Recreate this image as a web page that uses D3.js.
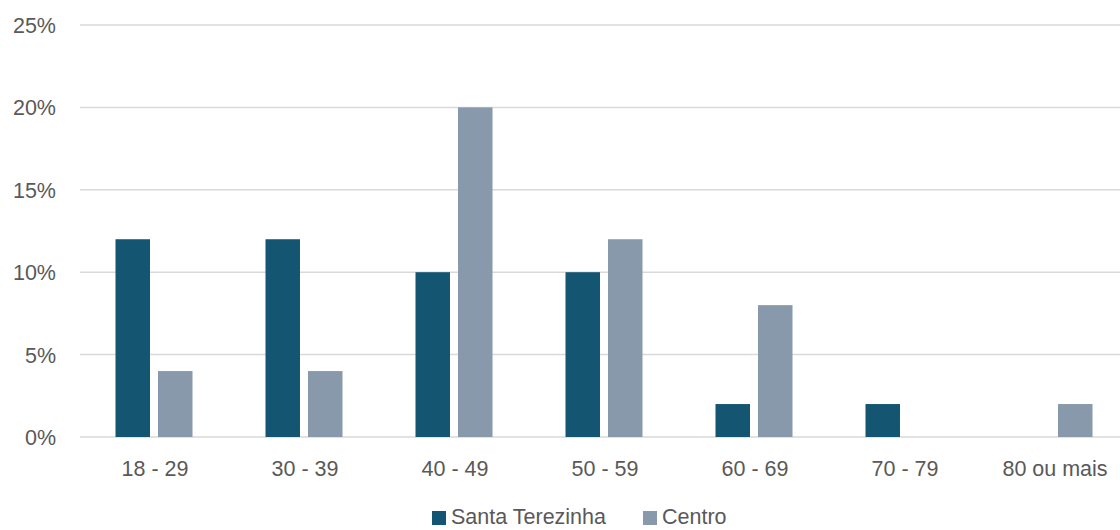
<!DOCTYPE html>
<html>
<head>
<meta charset="utf-8">
<script src="https://cdn.jsdelivr.net/npm/d3@7"></script>
<style>
  html, body { margin: 0; padding: 0; background: #fff; }
  svg { display: block; }
  text { font-family: "Liberation Sans", Arial, sans-serif; fill: #595959; }
</style>
</head>
<body>
<svg id="chart" width="1120" height="530"></svg>
<script>
// Age groups and share of respondents (%) per neighbourhood
const categories = ["18 - 29", "30 - 39", "40 - 49", "50 - 59", "60 - 69", "70 - 79", "80 ou mais"];
const seriesNames = ["Santa Terezinha", "Centro"];
const santaTerezinha = [12, 12, 10, 10, 2, 2, 0];
const centro = [4, 4, 20, 12, 8, 0, 2];
const yTicks = [0, 5, 10, 15, 20, 25];
const colors = ["#145571", "#8799ab"];

const seriesValues = [santaTerezinha, centro];

const svg = d3.select("#chart");
const plotLeft = 80, plotRight = 1130, plotTop = 25, plotBottom = 437;
const fontSize = 21.5;

const x = d3.scaleBand().domain(categories).range([plotLeft, plotRight]);
const y = d3.scaleLinear().domain([0, 25]).range([plotBottom, plotTop]);

const barW = 34.5, gap = 8;
const groupW = barW * 2 + gap;

// Gridlines
svg.append("g")
  .selectAll("line")
  .data(yTicks)
  .join("line")
  .attr("x1", plotLeft)
  .attr("x2", plotRight)
  .attr("y1", d => y(d))
  .attr("y2", d => y(d))
  .attr("stroke", "#d9d9d9")
  .attr("stroke-width", 1.5);

// Y axis labels
const yAxis = d3.axisLeft(y).tickValues(yTicks).tickFormat(d => d + "%").tickSize(0).tickPadding(0);
const yg = svg.append("g").attr("transform", "translate(56,0)").call(yAxis);
yg.select(".domain").remove();
yg.selectAll("text")
  .attr("font-size", fontSize)
  .attr("fill", "#595959")
  .attr("font-family", "Liberation Sans, Arial, sans-serif")
  .attr("dy", "0.35em");

// Bars
seriesValues.forEach((vals, si) => {
  svg.append("g")
    .selectAll("rect")
    .data(vals.map((v, i) => ({ cat: categories[i], v })).filter(d => d.v > 0))
    .join("rect")
    .attr("x", d => x(d.cat) + x.bandwidth() / 2 - groupW / 2 - 1 + si * (barW + gap))
    .attr("y", d => y(d.v))
    .attr("width", barW)
    .attr("height", d => y(0) - y(d.v))
    .attr("fill", colors[si]);
});

// X axis labels
const xAxis = d3.axisBottom(x).tickSize(0).tickPadding(0);
const xg = svg.append("g").attr("transform", `translate(0,${plotBottom})`).call(xAxis);
xg.select(".domain").remove();
xg.selectAll("text")
  .attr("font-size", fontSize)
  .attr("fill", "#595959")
  .attr("font-family", "Liberation Sans, Arial, sans-serif")
  .attr("dy", null)
  .attr("y", 39);

// Legend
const legend = svg.append("g");
const legendItems = [
  { name: seriesNames[0], color: colors[0], x: 432 },
  { name: seriesNames[1], color: colors[1], x: 643 }
];
legendItems.forEach(item => {
  legend.append("rect")
    .attr("x", item.x).attr("y", 511)
    .attr("width", 14).attr("height", 14)
    .attr("fill", item.color);
  legend.append("text")
    .attr("x", item.x + 19).attr("y", 524)
    .attr("font-size", fontSize)
    .text(item.name);
});
</script>
</body>
</html>
